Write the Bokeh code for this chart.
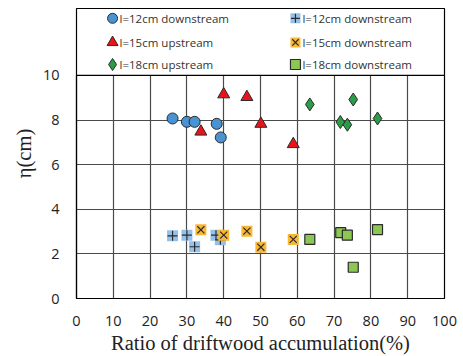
from bokeh.plotting import figure
from bokeh.models import Range1d, FixedTicker, ColumnDataSource, Span
from bokeh.embed import file_html
from bokeh.resources import INLINE
from bokeh.core.properties import value

# ---- data ----
x_12 = [26.1, 30.0, 32.1, 38.1, 39.2]
eta_12_circle = [8.07, 7.92, 7.92, 7.83, 7.22]
x_12_plus = [26.1, 30.0, 32.1, 37.9, 39.1]
eta_12_plus = [2.81, 2.84, 2.32, 2.84, 2.63]

x_15 = [33.8, 40.0, 46.3, 50.1, 58.9]
eta_15_up = [7.48, 9.15, 9.03, 7.83, 6.92]
eta_15_down = [3.08, 2.84, 3.02, 2.30, 2.65]

x_18 = [63.4, 71.7, 73.6, 75.2, 81.8]
eta_18_up = [8.70, 7.91, 7.79, 8.92, 8.07]
x_18_sq = [63.4, 71.8, 73.6, 75.2, 81.8]
eta_18_down = [2.65, 2.95, 2.84, 1.40, 3.09]

labels = ["l=12cm downstream", "l=15cm upstream", "l=18cm upstream",
          "l=12cm downstream", "l=15cm downstream", "l=18cm downstream"]
x_ticks = [0, 10, 20, 30, 40, 50, 60, 70, 80, 90, 100]
y_ticks = [0, 2, 4, 6, 8, 10]

C_CIRCLE = "#4a93d3"
C_PLUS = "#94c1ea"
C_TRI = "#e8141c"
C_X = "#f8b735"
C_DIA = "#2a9d47"
C_SQ = "#8cc653"
EDGE = "#2b2b2b"

FONT = "Open Sans"
SERIF = "Liberation Serif"

# plot area spans 0..10 in eta; the legend box sits above it, inside the frame
p = figure(width=463, height=356, output_backend="svg", toolbar_location=None,
           x_range=Range1d(0, 100), y_range=Range1d(0, 13.0),
           min_border_left=76, min_border_right=19, min_border_top=8, min_border_bottom=58)
p.outline_line_color = "black"
p.outline_line_width = 1.2

p.xaxis.ticker = FixedTicker(ticks=x_ticks)
p.yaxis.ticker = FixedTicker(ticks=y_ticks)
p.yaxis.bounds = (0, 10)
for ax in (p.xaxis[0], p.yaxis[0]):
    ax.axis_line_color = "black"
    ax.axis_line_width = 1.2
    ax.major_tick_out = 0
    ax.major_tick_in = 0
    ax.minor_tick_out = 0
    ax.minor_tick_in = 0
    ax.major_label_text_font = FONT
    ax.major_label_text_font_size = "14.5px"
    ax.major_label_text_color = "#222222"
    ax.axis_label_text_font = SERIF
    ax.axis_label_text_font_size = "20.5px"
    ax.axis_label_text_font_style = "normal"
    ax.axis_label_text_color = "#222222"

p.xaxis.axis_label = "Ratio of driftwood accumulation(%)"
p.yaxis.axis_label = "η(cm)"
p.xaxis.major_label_standoff = 17
p.xaxis.axis_label_standoff = 3
p.yaxis.major_label_standoff = 17
p.yaxis.axis_label_standoff = 5

p.xgrid.grid_line_color = "#4a4a4a"
p.ygrid.grid_line_color = "#4a4a4a"
p.xgrid.grid_line_width = 1.2
p.ygrid.grid_line_width = 1.2
p.xgrid.cross_bounds = (0, 10)

# bottom edge of the legend box
p.add_layout(Span(location=10, dimension="width", line_color="black", line_width=1.2))

# l=12cm circles
p.scatter(x_12, eta_12_circle, marker="circle", size=11, fill_color=C_CIRCLE,
          line_color=EDGE, line_width=1)
# l=15cm triangles
p.scatter(x_15, eta_15_up, marker="triangle", size=12, fill_color=C_TRI,
          line_color=EDGE, line_width=1)
# l=18cm diamonds
p.scatter(x_18, eta_18_up, marker="diamond", size=13, fill_color=C_DIA,
          line_color=EDGE, line_width=1)
# l=12cm plus on light blue square
p.scatter(x_12_plus, eta_12_plus, marker="square", size=11, fill_color=C_PLUS,
          line_color=None)
p.scatter(x_12_plus, eta_12_plus, marker="cross", size=10, line_color=EDGE, line_width=1.2)
# l=15cm x on orange square
p.scatter(x_15, eta_15_down, marker="square", size=11, fill_color=C_X, line_color=None)
p.scatter(x_15, eta_15_down, marker="x", size=10, line_color=EDGE, line_width=1.2)
# l=18cm green squares
p.scatter(x_18_sq, eta_18_down, marker="square", size=10, fill_color=C_SQ,
          line_color=EDGE, line_width=1.2)

# ---- legend entries (layout positions inside the legend box) ----
lx = [9.8, 9.8, 9.8, 59.5, 59.5, 59.5]
ly = [12.56, 11.48, 10.49, 12.56, 11.48, 10.49]
p.scatter(lx[0:1], ly[0:1], marker="circle", size=10, fill_color=C_CIRCLE, line_color=EDGE)
p.scatter(lx[1:2], ly[1:2], marker="triangle", size=11, fill_color=C_TRI, line_color=EDGE)
p.scatter(lx[2:3], ly[2:3], marker="diamond", size=12, fill_color=C_DIA, line_color=EDGE)
p.scatter(lx[3:4], ly[3:4], marker="square", size=10, fill_color=C_PLUS, line_color=None)
p.scatter(lx[3:4], ly[3:4], marker="cross", size=9, line_color=EDGE, line_width=1.2)
p.scatter(lx[4:5], ly[4:5], marker="square", size=10, fill_color=C_X, line_color=None)
p.scatter(lx[4:5], ly[4:5], marker="x", size=9, line_color=EDGE, line_width=1.2)
p.scatter(lx[5:6], ly[5:6], marker="square", size=10, fill_color=C_SQ, line_color=EDGE, line_width=1.2)
tsrc = ColumnDataSource(dict(x=[v + 1.9 for v in lx], y=ly, t=labels))
p.text(x="x", y="y", text="t", source=tsrc, text_font=value(FONT), text_font_size="11.5px",
       text_baseline="middle", text_align="left", text_color="#333333")

open("out.html", "w").write(file_html(p, INLINE))
